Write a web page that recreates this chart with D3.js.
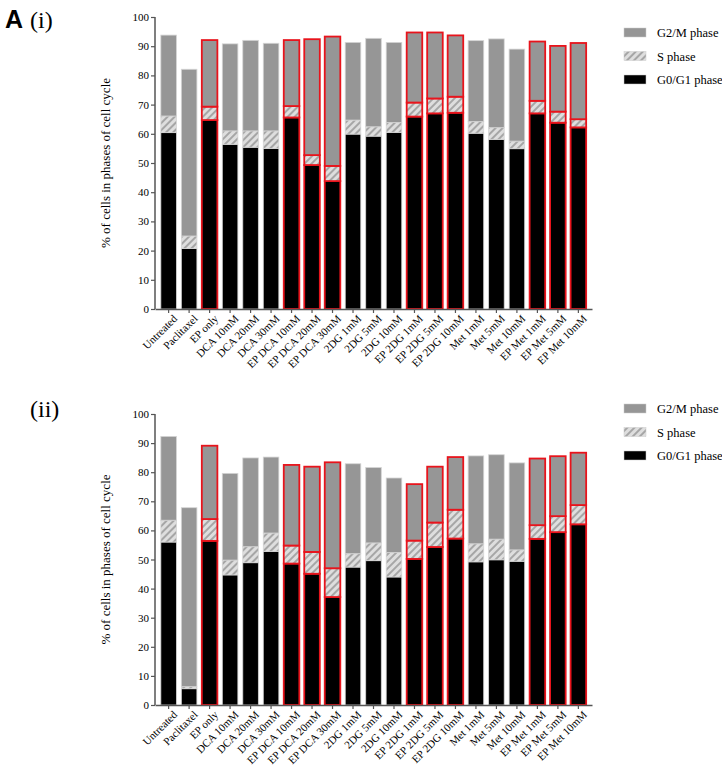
<!DOCTYPE html>
<html><head><meta charset="utf-8">
<script src="https://cdn.jsdelivr.net/npm/d3@7"></script>
<style>body{margin:0;background:#fff}svg{display:block}</style>
</head><body><svg id="c" width="722" height="765"></svg>
<script>
const categories = ["Untreated","Paclitaxel","EP only","DCA 10mM","DCA 20mM","DCA 30mM","EP DCA 10mM","EP DCA 20mM","EP DCA 30mM","2DG 1mM","2DG 5mM","2DG 10mM","EP 2DG 1mM","EP 2DG 5mM","EP 2DG 10mM","Met 1mM","Met 5mM","Met 10mM","EP Met 1mM","EP Met 5mM","EP Met 10mM"];
const highlighted = ["EP only","EP DCA 10mM","EP DCA 20mM","EP DCA 30mM","EP 2DG 1mM","EP 2DG 5mM","EP 2DG 10mM","EP Met 1mM","EP Met 5mM","EP Met 10mM"];
// Panel (i)
const g0g1_i = [60.4,20.7,64.7,56.4,55.4,55.0,65.6,49.3,43.8,59.9,59.2,60.5,65.9,67.0,67.2,60.2,58.1,54.9,67.0,63.8,62.2];
const s_i    = [5.7,4.3,4.6,4.6,5.6,6.0,3.9,3.4,5.2,4.8,3.2,3.4,4.8,5.1,5.5,4.0,4.0,2.6,4.3,3.8,2.8];
const g2m_i  = [27.7,57.1,22.8,29.8,31.0,30.0,22.6,39.7,44.3,26.6,30.3,27.4,24.0,22.6,21.0,27.7,30.4,31.5,20.3,22.5,26.1];
// Panel (ii)
const g0g1_ii = [56.0,5.6,56.4,44.7,48.9,52.8,48.6,45.1,37.1,47.4,49.6,44.0,50.2,54.3,57.2,49.2,49.9,49.4,57.1,59.4,62.1];
const s_ii    = [7.5,0.7,7.5,5.1,5.5,6.3,6.2,7.5,9.9,4.6,6.1,8.4,6.3,8.4,9.9,6.2,7.1,3.9,4.7,5.5,6.6];
const g2m_ii  = [28.8,61.5,25.2,29.8,30.5,26.1,27.7,29.3,36.4,30.9,25.9,25.6,19.4,19.2,18.1,30.2,29.0,29.9,22.9,20.6,18.0];
const yTicks = [0,10,20,30,40,50,60,70,80,90,100];
const phases = ["G0/G1 phase","S phase","G2/M phase"];
const legendOrder = ["G2/M phase","S phase","G0/G1 phase"];

const svg = d3.select("#c");
const serif = "'Liberation Serif','Times New Roman',serif";
const defs = svg.append("defs");
const pat = defs.append("pattern").attr("id","hatch").attr("patternUnits","userSpaceOnUse")
  .attr("width",5).attr("height",5).attr("patternTransform","rotate(45)");
pat.append("rect").attr("width",5).attr("height",5).attr("fill","#dedede");
pat.append("line").attr("x1",1).attr("y1",0).attr("x2",1).attr("y2",5).attr("stroke","#a6a6a6").attr("stroke-width",2);

const fills = {"G0/G1 phase":"#000","S phase":"url(#hatch)","G2/M phase":"#969696"};

const x = d3.scaleBand().domain(categories).range([155,592]).paddingInner(0.24).paddingOuter(0.285);

function panel(top, bottom, g0, s, g2, label, legendY){
  const y = d3.scaleLinear().domain([0,100]).range([bottom, top]);
  const g = svg.append("g");
  const rows = categories.map((c,i)=>({c, v:{"G0/G1 phase":g0[i],"S phase":s[i],"G2/M phase":g2[i]}}));
  const stack = d3.stack().keys(phases).value((d,k)=>d.v[k])(rows);
  stack.forEach(layer=>{
    g.append("g").selectAll("rect").data(layer).join("rect")
      .attr("x",d=>x(d.data.c)).attr("width",x.bandwidth())
      .attr("y",d=>y(d[1])).attr("height",d=>y(d[0])-y(d[1]))
      .attr("fill",fills[layer.key])
      .attr("stroke",d=>highlighted.includes(d.data.c)?"#e8141c":"#d4d4d4")
      .attr("stroke-width",d=>highlighted.includes(d.data.c)?1.8:0.8);
  });
  const ya = g.append("g").attr("transform",`translate(155,0)`)
    .call(d3.axisLeft(y).tickValues(yTicks).tickSize(4).tickPadding(2));
  const xa = g.append("g").attr("transform",`translate(0,${bottom})`)
    .call(d3.axisBottom(x).tickSize(4).tickSizeOuter(0).tickPadding(3));
  [ya,xa].forEach(a=>{
    a.select(".domain").attr("stroke","#555").attr("stroke-width",1.5);
    a.selectAll(".tick line").attr("stroke","#555").attr("stroke-width",1.2);
    a.selectAll("text").attr("font-family",serif).attr("font-size",11).attr("fill","#000");
  });
  ya.select(".domain").attr("d",`M-0,${bottom}V${top}`);
  xa.selectAll(".tick text").attr("text-anchor","end").attr("dy","0.3em")
    .attr("transform","translate(2,3) rotate(-45)");
  g.append("text").attr("transform",`translate(110,${(top+bottom)/2}) rotate(-90)`)
    .attr("text-anchor","middle").attr("font-family",serif).attr("font-size",13)
    .text("% of cells in phases of cell cycle");
  const lg = g.append("g");
  legendOrder.forEach((k,i)=>{
    lg.append("rect").attr("x",624).attr("y",legendY+i*23.5-5).attr("width",22).attr("height",9)
      .attr("fill",fills[k]).attr("stroke","#ccc").attr("stroke-width",0.5);
    lg.append("text").attr("x",657).attr("y",legendY+i*23.5+4).attr("font-family",serif)
      .attr("font-size",12.5).text(k);
  });
}
panel(17,309,g0g1_i,s_i,g2m_i,"(i)",33);
panel(414,705,g0g1_ii,s_ii,g2m_ii,"(ii)",409);

svg.append("text").attr("x",5).attr("y",28).attr("font-family","'Liberation Sans',Arial,sans-serif")
  .attr("font-weight","bold").attr("font-size",25).text("A");
svg.append("text").attr("x",30).attr("y",28).attr("font-family",serif).attr("font-size",24).text("(i)");
svg.append("text").attr("x",30).attr("y",417).attr("font-family",serif).attr("font-size",24).text("(ii)");
</script></body></html>
